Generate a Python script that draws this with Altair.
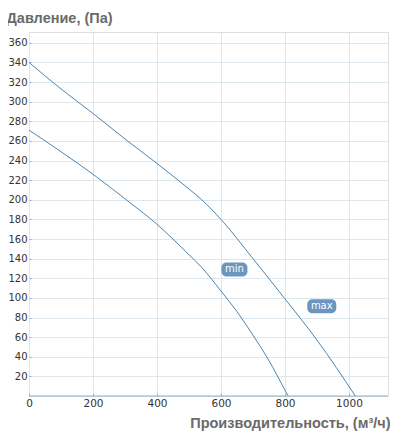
import altair as alt
import pandas as pd

# ---- data ----
flow_max = [0, 100, 200, 300, 400, 500, 540, 600, 700, 800, 900, 1020]
p_max = [340, 313, 288, 262, 237, 211, 200, 180, 140, 99, 57, 0]

flow_min = [0, 100, 200, 300, 400, 500, 540, 600, 650, 700, 750, 800, 810]
p_min = [271, 249, 226, 201, 175, 144, 131, 107, 86, 62, 36, 6, 0]

label_text = ["min", "max"]
label_flow = [642, 915]
label_p = [129, 91.5]
label_w = [26, 29]

x_ticks = [0, 200, 400, 600, 800, 1000]
y_ticks = list(range(20, 361, 20))

df = pd.concat([
    pd.DataFrame({"flow": flow_max, "p": p_max, "series": "max"}),
    pd.DataFrame({"flow": flow_min, "p": p_min, "series": "min"}),
])
lab = pd.DataFrame({"flow": label_flow, "p": label_p, "text": label_text, "w": label_w})

x_scale = alt.Scale(domain=[0, 1122], nice=False, zero=False)
y_scale = alt.Scale(domain=[0, 371], nice=False, zero=False)

LINE = "#5084ad"
GRID = "#dde8ee"
TICK = "#8fb3cc"
BOX = "#6b96bf"
TITLE = "#6a6a6a"

x_axis = alt.Axis(
    values=x_ticks, title="Производительность, (м³/ч)", format="d",
    grid=True, gridColor=GRID, domain=False,
    offset=-3, tickSize=3, tickColor=TICK, labelPadding=2,
    labelOverlap=False, labelFlush=False,
    labelFont="DejaVu Sans", labelFontSize=10.5, labelColor="#333333",
    titleFont="Liberation Sans", titleFontSize=14.5, titleFontWeight="bold",
    titleColor=TITLE, titleAlign="right", titleBaseline="alphabetic",
    titleX=361, titleY=34, titleAnchor="end",
)
y_axis = alt.Axis(
    values=y_ticks, title="Давление, (Па)", format="d",
    grid=True, gridColor=GRID, domain=False,
    offset=-2, tickSize=2, tickColor=TICK, labelPadding=2,
    labelOverlap=False, labelFlush=False,
    labelFont="DejaVu Sans", labelFontSize=10, labelColor="#333333",
    titleFont="Liberation Sans", titleFontSize=14.5, titleFontWeight="bold",
    titleColor=TITLE, titleAngle=0, titleAlign="left", titleBaseline="alphabetic",
    titleX=-25, titleY=-10,
)

lines = alt.Chart(df).mark_line(color=LINE, strokeWidth=1, interpolate="monotone").encode(
    x=alt.X("flow:Q", scale=x_scale, axis=x_axis),
    y=alt.Y("p:Q", scale=y_scale, axis=y_axis),
    detail="series:N",
)

bottom = alt.Chart(pd.DataFrame({"p": [0]})).mark_rule(color=TICK, strokeWidth=1).encode(
    y=alt.Y("p:Q", scale=y_scale, axis=None),
)

layers = [lines, bottom]
for i in range(len(label_text)):
    one = lab.iloc[[i]]
    box = alt.Chart(one).mark_rect(
        width=int(one["w"].iloc[0]), height=14, cornerRadius=5, color=BOX
    ).encode(
        x=alt.X("flow:Q", scale=x_scale, axis=None),
        y=alt.Y("p:Q", scale=y_scale, axis=None),
    )
    layers.append(box)

texts = alt.Chart(lab).mark_text(
    color="white", font="DejaVu Sans", fontSize=10, align="center", baseline="middle"
).encode(
    x=alt.X("flow:Q", scale=x_scale, axis=None),
    y=alt.Y("p:Q", scale=y_scale, axis=None),
    text="text:N",
)
layers.append(texts)

chart = alt.layer(*layers).resolve_axis(
    x="independent", y="independent"
).properties(
    width=359, height=364,
    padding={"left": 21, "top": 24, "right": 4, "bottom": 36},
    autosize=alt.AutoSizeParams(type="none"),
).configure_view(
    stroke="#c8dce4", strokeWidth=1
).configure(background="white")

chart.save("out.html", embed_options={"renderer": "svg", "actions": False})
